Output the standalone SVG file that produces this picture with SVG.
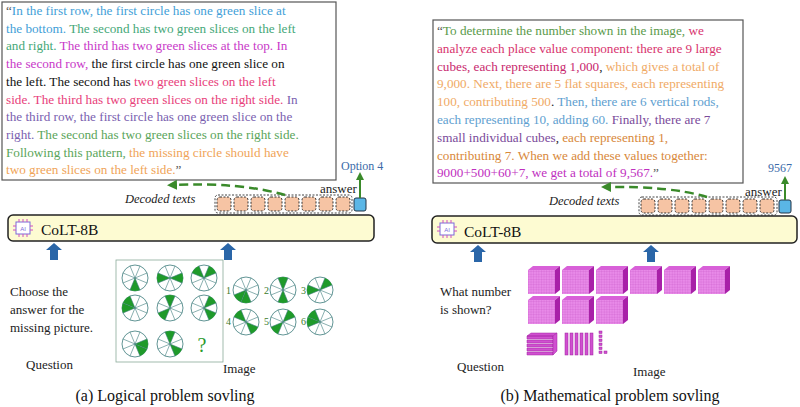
<svg xmlns="http://www.w3.org/2000/svg" width="800" height="407" viewBox="0 0 800 407">
<style>
text{font-family:"Liberation Serif",serif !important}
text.sans{font-family:"Liberation Sans",sans-serif !important}
.t{font-size:13.2px}
.lbl{font-size:13px;fill:#222}
.cap{font-size:16px;fill:#111}
.box{fill:#fff;stroke:#555;stroke-width:1.2}
.bar{fill:#fdfbd2;stroke:#222;stroke-width:1.5}
.tok{fill:#f6c4a4;stroke:#333;stroke-width:1;stroke-dasharray:2 1.5}
.tokg{fill:none;stroke:#444;stroke-width:1;stroke-dasharray:2 1.5}
.ans{fill:#5ab6e6;stroke:#234;stroke-width:1}
.dash{fill:none;stroke:#3a8a2a;stroke-width:2.5;stroke-dasharray:9 5}
.up{fill:#2a66a8}
.c{fill:#fff;stroke:#3a7a7a;stroke-width:0.8}
.w{fill:#1f9a2a}
.sp{stroke:#3a7a7a;stroke-width:0.6}
</style>
<defs>
<marker id="ga" viewBox="0 0 10 10" refX="5" refY="5" markerWidth="4" markerHeight="4" orient="auto"><path d="M0,0 L10,5 L0,10 Z" fill="#3a8a2a"/></marker>
<g id="circ"><circle class="c" r="13"/></g>
<g id="sp"><g class="sp">
<line x1="-12.0" y1="-4.97" x2="12.0" y2="4.97"/><line x1="-4.97" y1="-12.0" x2="4.97" y2="12.0"/><line x1="4.97" y1="-12.0" x2="-4.97" y2="12.0"/><line x1="12.0" y1="-4.97" x2="-12.0" y2="4.97"/></g></g>
<path id="w" class="w" d="M0,0 L4.97,12.01 A13,13 0 0 1 -4.97,12.01 Z"/>
<path id="up" class="up" d="M-4,16 L-4,6 L-8,6 L0,-1 L8,6 L4,6 L4,16 Z"/>
<pattern id="grid" width="2.6" height="2.6" patternUnits="userSpaceOnUse"><rect width="2.6" height="2.6" fill="#e88ae8"/><path d="M0,0 H2.6 M0,0 V2.6" stroke="#c44cc4" stroke-width="0.4"/></pattern>
<g id="cube"><path d="M0,4 L5,0 L32,0 L27,4 Z" fill="#d860d8"/><path d="M27,4 L32,0 L32,24 L27,28 Z" fill="#a820a8"/><rect x="0" y="4" width="27" height="24" fill="url(#grid)"/></g>
<g id="icon"><rect x="4" y="4" width="14" height="12" fill="#fff" stroke="#7a6ad8" stroke-width="1"/><text class="sans" x="11" y="13" font-size="6" text-anchor="middle" fill="#7a6ad8">AI</text>
<path d="M7,4 V1 M11,4 V1 M15,4 V1 M7,16 V19 M11,16 V19 M15,16 V19 M4,8 H1 M4,12 H1 M18,8 H21 M18,12 H21" stroke="#d050c0" stroke-width="1"/></g>
</defs>

<g id="left-text">
<rect class="box" x="2" y="2" width="334" height="178"/>
<text class="t" x="6" y="15"><tspan fill="#555">“</tspan><tspan fill="#3fa0d8">In the first row, the first circle has one green slice at</tspan></text>
<text class="t" x="6" y="32.7"><tspan fill="#3fa0d8">the bottom. </tspan><tspan fill="#45a878">The second has two green slices on the left</tspan></text>
<text class="t" x="6" y="50.4"><tspan fill="#45a878">and right. </tspan><tspan fill="#c838c8">The third has two green slices at the top. In</tspan></text>
<text class="t" x="6" y="68.1"><tspan fill="#c838c8">the second row, </tspan><tspan fill="#111">the first circle has one green slice on</tspan></text>
<text class="t" x="6" y="85.8"><tspan fill="#111">the left. The second has </tspan><tspan fill="#e8407a">two green slices on the left</tspan></text>
<text class="t" x="6" y="103.5"><tspan fill="#e8407a">side. The third has two green slices on the right side. </tspan><tspan fill="#7a5fb0">In</tspan></text>
<text class="t" x="6" y="121.2"><tspan fill="#7a5fb0">the third row, the first circle has one green slice on the</tspan></text>
<text class="t" x="6" y="138.9"><tspan fill="#7a5fb0">right. </tspan><tspan fill="#5aa55a">The second has two green slices on the right side.</tspan></text>
<text class="t" x="6" y="156.6"><tspan fill="#5aa55a">Following this pattern, </tspan><tspan fill="#f0a458">the missing circle should have</tspan></text>
<text class="t" x="6" y="174.3"><tspan fill="#f0a458">two green slices on the left side.</tspan><tspan fill="#555">”</tspan></text>
</g>
<g id="left-tokens">
<rect class="tokg" x="215" y="195" width="137" height="18" rx="3"/>
<rect class="tok" x="217" y="197" width="14" height="14" rx="3"/><rect class="tok" x="234" y="197" width="14" height="14" rx="3"/><rect class="tok" x="251" y="197" width="14" height="14" rx="3"/><rect class="tok" x="268" y="197" width="14" height="14" rx="3"/><rect class="tok" x="285" y="197" width="14" height="14" rx="3"/><rect class="tok" x="302" y="197" width="14" height="14" rx="3"/><rect class="tok" x="319" y="197" width="14" height="14" rx="3"/><rect class="tok" x="336" y="197" width="14" height="14" rx="3"/>
<rect class="ans" x="354" y="198" width="12" height="13" rx="2"/>
<text class="lbl" x="320" y="193" font-size="12">answer</text>
<text x="341" y="170" font-size="12" fill="#3a6aa8">Option 4</text>
<text x="125" y="203" font-size="12.5" font-style="italic" fill="#222">Decoded texts</text>
</g>
<g id="left-model">
<rect class="bar" x="8" y="215" width="366" height="26" rx="5"/>
<use href="#icon" x="12" y="218"/>
<text x="41" y="235" font-size="15.5" fill="#111">CoLT-8B</text>
</g>
<g id="left-question">
<text class="lbl" x="10" y="296" font-size="13.5"><tspan x="10">Choose the</tspan><tspan x="10" dy="18">answer for the</tspan><tspan x="10" dy="18">missing picture.</tspan></text>
<text class="lbl" x="26" y="369">Question</text>
</g>
<g id="left-image">
<rect x="116" y="260" width="107" height="102" fill="#fff" stroke="#8aaa9a" stroke-width="0.8"/>
<g transform="translate(135,278)"><use href="#circ"/><use href="#w"/><use href="#sp"/></g>
<g transform="translate(170,278)"><use href="#circ"/><use href="#w" transform="rotate(90)"/><use href="#w" transform="rotate(270)"/><use href="#sp"/></g>
<g transform="translate(204,278)"><use href="#circ"/><use href="#w" transform="rotate(135)"/><use href="#w" transform="rotate(225)"/><use href="#sp"/></g>
<g transform="translate(135,308)"><use href="#circ"/><use href="#w" transform="rotate(90)"/><use href="#w" transform="rotate(135)"/><use href="#sp"/></g>
<g transform="translate(170,308)"><use href="#circ"/><use href="#w" transform="rotate(45)"/><use href="#w" transform="rotate(180)"/><use href="#sp"/></g>
<g transform="translate(204,308)"><use href="#circ"/><use href="#w" transform="rotate(-45)"/><use href="#w" transform="rotate(225)"/><use href="#sp"/></g>
<g transform="translate(135,344)"><use href="#circ"/><use href="#w" transform="rotate(-90)"/><use href="#w" transform="rotate(-45)"/><use href="#sp"/></g>
<g transform="translate(170,344)"><use href="#circ"/><use href="#w" transform="rotate(-45)"/><use href="#w" transform="rotate(180)"/><use href="#sp"/></g>
<text x="202" y="352" font-size="20" fill="#2a9a2a" text-anchor="middle">?</text>
<g font-size="10" fill="#3a7a2a">
<text x="226" y="294">1</text><text x="264" y="294">2</text><text x="301" y="294">3</text>
<text x="226" y="325">4</text><text x="264" y="325">5</text><text x="301" y="325">6</text>
</g>
<g transform="translate(246,290)"><use href="#circ"/><use href="#w" transform="rotate(45)"/><use href="#w" transform="rotate(0)"/><use href="#sp"/></g>
<g transform="translate(283,290)"><use href="#circ"/><use href="#w" transform="rotate(180)"/><use href="#w" transform="rotate(0)"/><use href="#sp"/></g>
<g transform="translate(320,290)"><use href="#circ"/><use href="#w" transform="rotate(90)"/><use href="#w" transform="rotate(-135)"/><use href="#sp"/></g>
<g transform="translate(246,322)"><use href="#circ"/><use href="#w" transform="rotate(135)"/><use href="#w" transform="rotate(-45)"/><use href="#sp"/></g>
<g transform="translate(283,322)"><use href="#circ"/><use href="#w" transform="rotate(-135)"/><use href="#w" transform="rotate(45)"/><use href="#sp"/></g>
<g transform="translate(320,322)"><use href="#circ"/><use href="#w" transform="rotate(90)"/><use href="#w" transform="rotate(135)"/><use href="#sp"/></g>
<text class="lbl" x="223" y="373">Image</text>
</g>
<text class="cap" x="165" y="401" text-anchor="middle">(a) Logical problem sovling</text>

<g id="right-text">
<rect class="box" x="433" y="20" width="310" height="163"/>
<text class="t" x="437" y="35"><tspan fill="#555">“</tspan><tspan fill="#5a9a4a">To determine the number shown in the image, </tspan><tspan fill="#d8336e">we</tspan></text>
<text class="t" x="437" y="52.8"><tspan fill="#d8336e">analyze each place value component: there are 9 large</tspan></text>
<text class="t" x="437" y="70.6"><tspan fill="#c8286e">cubes, each representing 1,000</tspan><tspan fill="#222">, </tspan><tspan fill="#f0aa66">which gives a total of</tspan></text>
<text class="t" x="437" y="88.4"><tspan fill="#f0aa66">9,000. Next, there are 5 flat squares, each representing</tspan></text>
<text class="t" x="437" y="106.2"><tspan fill="#f0aa66">100, contributing 500</tspan><tspan fill="#222">. </tspan><tspan fill="#5ea0d0">Then, there are 6 vertical rods,</tspan></text>
<text class="t" x="437" y="124"><tspan fill="#5ea0d0">each representing 10, adding 60. </tspan><tspan fill="#7a4a9a">Finally, there are 7</tspan></text>
<text class="t" x="437" y="141.8"><tspan fill="#7a4a9a">small individual cubes</tspan><tspan fill="#222">, </tspan><tspan fill="#d8883a">each representing 1,</tspan></text>
<text class="t" x="437" y="159.6"><tspan fill="#d8883a">contributing 7. When we add these values together:</tspan></text>
<text class="t" x="437" y="177.4"><tspan fill="#c030c0">9000+500+60+7, we get a total of 9,567.</tspan><tspan fill="#555">”</tspan></text>
</g>
<g id="right-tokens">
<rect class="tokg" x="639" y="197" width="138" height="18" rx="3"/>
<rect class="tok" x="641" y="199" width="14" height="14" rx="3"/><rect class="tok" x="658" y="199" width="14" height="14" rx="3"/><rect class="tok" x="675" y="199" width="14" height="14" rx="3"/><rect class="tok" x="692" y="199" width="14" height="14" rx="3"/><rect class="tok" x="709" y="199" width="14" height="14" rx="3"/><rect class="tok" x="726" y="199" width="14" height="14" rx="3"/><rect class="tok" x="743" y="199" width="14" height="14" rx="3"/><rect class="tok" x="760" y="199" width="14" height="14" rx="3"/>
<rect class="ans" x="779" y="200" width="12" height="13" rx="2"/>
<text class="lbl" x="745" y="196" font-size="12">answer</text>
<text x="768" y="172" font-size="12" fill="#3a6aa8">9567</text>
<text x="549" y="205" font-size="12.5" font-style="italic" fill="#222">Decoded texts</text>
</g>
<g id="right-model">
<rect class="bar" x="432" y="216" width="365" height="27" rx="5"/>
<use href="#icon" x="436" y="219"/>
<text x="464" y="237" font-size="15.5" fill="#111">CoLT-8B</text>
</g>
<g id="right-question">
<text class="lbl" x="440" y="296" font-size="13.5"><tspan x="440">What number</tspan><tspan x="440" dy="18">is shown?</tspan></text>
<text class="lbl" x="457" y="371">Question</text>
</g>
<g id="right-image">
<use href="#cube" x="528" y="266"/><use href="#cube" x="562" y="266"/><use href="#cube" x="596" y="266"/><use href="#cube" x="630" y="266"/><use href="#cube" x="664" y="266"/><use href="#cube" x="698" y="266"/>
<use href="#cube" x="528" y="296"/><use href="#cube" x="562" y="296"/><use href="#cube" x="596" y="296"/>
<g fill="#d050d0" stroke="#a020a0" stroke-width="0.5">
<path d="M527,336 L531,333 L557,333 L553,336 Z M527,336 h26 v3 h-26 Z"/>
<path d="M527,340 h26 v3 h-26 Z M527,344 h26 v3 h-26 Z M527,348 h26 v3 h-26 Z M527,352 h26 v3 h-26 Z"/>
<path d="M553,336 L557,333 V351 L553,355 Z"/>
<rect x="565" y="333" width="3" height="22"/><rect x="570" y="333" width="3" height="22"/><rect x="575" y="333" width="3" height="22"/><rect x="580" y="333" width="3" height="22"/><rect x="585" y="333" width="3" height="22"/><rect x="590" y="333" width="3" height="22"/>
<rect x="599" y="331" width="3" height="2.5"/><rect x="599" y="335" width="3" height="2.5"/><rect x="599" y="339" width="3" height="2.5"/><rect x="599" y="343" width="3" height="2.5"/><rect x="599" y="347" width="3" height="2.5"/><rect x="599" y="351" width="3" height="2.5"/><rect x="604" y="351" width="3" height="2.5"/>
</g>
<text class="lbl" x="633" y="376">Image</text>
</g>
<text class="cap" x="610" y="401" text-anchor="middle">(b) Mathematical problem sovling</text>

<g id="connectors">
<path class="dash" d="M285,195 Q240,182 172,185" marker-end="url(#ga)"/>
<line x1="360" y1="198" x2="360" y2="176" stroke="#3a8a2a" stroke-width="2" marker-end="url(#ga)"/>
<path class="dash" d="M707,197 Q670,186 606,187" marker-end="url(#ga)"/>
<line x1="785" y1="200" x2="785" y2="180" stroke="#3a8a2a" stroke-width="2" marker-end="url(#ga)"/>
<use href="#up" x="54" y="244"/><use href="#up" x="228" y="244"/>
<use href="#up" x="478" y="246"/><use href="#up" x="651" y="246"/>
</g>
</svg>
